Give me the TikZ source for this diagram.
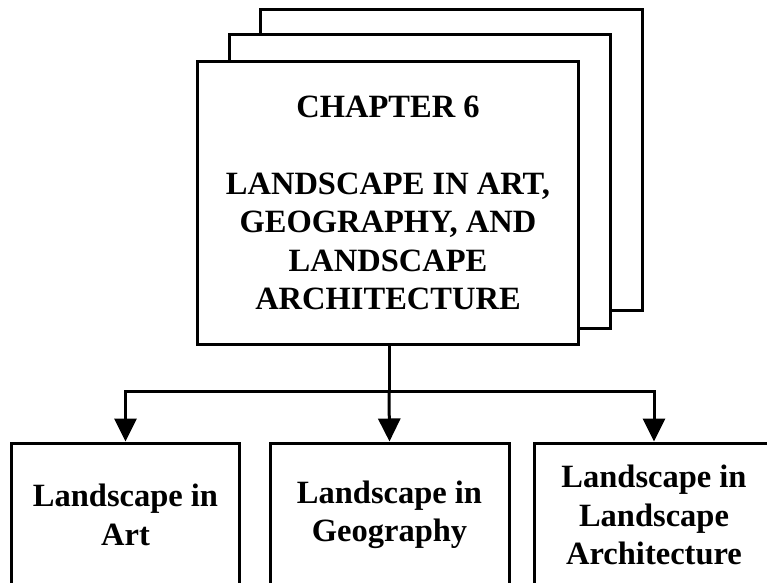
\documentclass[tikz,border=0pt]{standalone}
\usepackage{fontspec}
\setmainfont{Liberation Serif}
\usetikzlibrary{arrows.meta}

\tikzset{
  sheet/.style={draw=black, fill=white, line width=3bp},
  chapterbox/.style={sheet, minimum width=381bp, minimum height=282bp, inner sep=0pt,
    align=center, font=\bfseries\fontsize{32.5bp}{38.5bp}\selectfont},
  topicbox/.style={sheet, minimum width=229bp, minimum height=144bp, inner sep=0pt,
    align=center, font=\bfseries\fontsize{32.5bp}{38.5bp}\selectfont},
  link/.style={line width=3bp, -{Triangle[length=23bp,width=22bp]}}
}

\begin{document}
\begin{tikzpicture}[x=1bp, y=-1bp]
  \useasboundingbox (0,0) rectangle (767,583);

  % stacked pages behind the chapter box
  \draw[sheet] (260,10) rectangle (642,310);
  \draw[sheet] (229,35) rectangle (610,328);

  \node[chapterbox] (chapter) at (388,203)
    {CHAPTER 6\\[38.5bp]LANDSCAPE IN ART,\\GEOGRAPHY, AND\\LANDSCAPE\\ARCHITECTURE};

  \node[topicbox, minimum width=227bp] (art) at (125.5,515) {Landscape in\\Art};
  \node[topicbox, minimum width=239bp] (geo) at (389.5,515) {Landscape in\\Geography};
  \node[topicbox, minimum width=240bp] (arch) at (654,515) {Landscape in\\Landscape\\Architecture};

  \coordinate (split) at (389,391);

  \draw[line width=3bp] (chapter.south -| split) -- (split);
  \draw[link] (split) -| (art.north);
  \draw[link] (split) -- (geo.north);
  \draw[link] (split) -| (arch.north);
\end{tikzpicture}
\end{document}
